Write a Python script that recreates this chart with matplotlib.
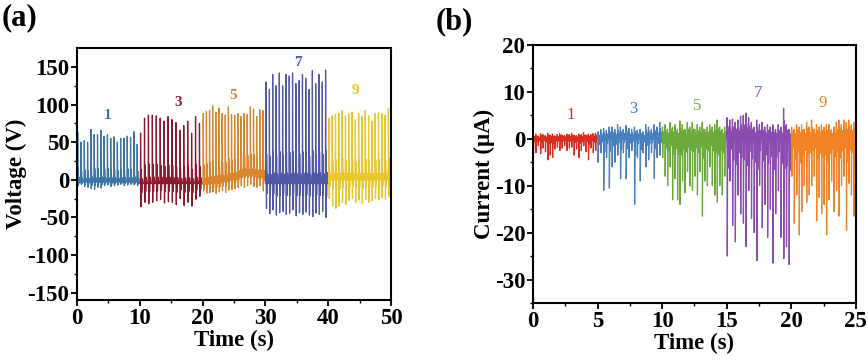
import numpy as np
import matplotlib
matplotlib.use("Agg")
import matplotlib.pyplot as plt

plt.rcParams['font.family'] = ['Liberation Serif', 'DejaVu Serif']
plt.rcParams['font.weight'] = 'bold'
plt.rcParams['axes.labelweight'] = 'bold'
plt.rcParams['axes.unicode_minus'] = False

# ---- (a) voltage, one 10 s window per frequency ----
v_freqs = ['1', '3', '5', '7', '9']
v_colors = ['#3d74a3', '#8c1a2e', '#d9852e', '#5058a8', '#e8c72c']
v_peaks = [
    [63, 50, 52, 50, 67, 60, 60, 66, 58, 60, 55, 57, 50, 55, 55, 58, 56, 64, 47],
    [62, 82, 86, 86, 85, 82, 78, 84, 80, 76, 66, 72, 78, 62, 84, 75],
    [88, 91, 92, 98, 90, 95, 88, 86, 97, 87, 86, 88, 84, 88, 87, 97, 94, 84, 93, 92],
    [130, 120, 140, 125, 142, 125, 140, 138, 142, 128, 132, 140, 135, 120, 145, 128, 140, 130, 146],
    [82, 85, 87, 88, 92, 85, 88, 90, 80, 88, 84, 92, 85, 78, 88, 90, 88, 86, 95],
]
v_troughs = [
    [-8, -6, -9, -10, -12, -13, -10, -11, -8, -7, -9, -8, -7, -6, -8, -7, -6, -7, -8],
    [-36, -30, -32, -30, -28, -26, -31, -29, -30, -33, -25, -34, -30, -35, -26, -22],
    [-15, -18, -17, -16, -18, -16, -15, -17, -14, -13, -12, -10, -8, -10, -8, -6, -9, -10, -8, -15],
    [-38, -45, -40, -47, -44, -42, -46, -45, -40, -48, -44, -46, -43, -47, -49, -44, -46, -42, -50],
    [-25, -35, -38, -35, -30, -33, -28, -25, -30, -27, -32, -26, -30, -28, -25, -27, -24, -26, -22],
]
v_base = [
    [-3] * 19,
    [-5] * 16,
    [-6, -6, -5, -5, -4, -4, -3, -2, -1, 0, 1, 3, 5, 6, 6, 5, 5, 4, 4, 3],
    [-5] * 19,
    [0] * 19,
]
v_label_pos = [(4.8, 86), (16.1, 103), (24.9, 112), (35.1, 156), (44.4, 119)]

# ---- (b) current, one 5 s window per frequency ----
i_freqs = ['1', '3', '5', '7', '9']
i_colors = ['#d62d1e', '#4a7fbf', '#6bab3b', '#8b4cb2', '#ef8326']
i_neg = [
    [-2.5, -3, -1.5, -3.2, -2, -2.8, -4.5, -3.5, -4, -2.2, -1.8, -2.5, -2, -1.5,
     -2.5, -2, -1.8, -3.5, -2.2, -4, -2.5, -1.5, -2.8, -4.5, -2, -3, -2.5],
    [-5, -3, -11, -4, -10.5, -6, -5, -3.5, -8.5, -3, -8.5, -4, -2.5, -14, -4, -9,
     -3, -6, -4.5, -3, -8.5, -4, -3.5],
    [-4, -8, -10, -6, -13, -8.5, -13, -14, -9, -11.5, -7, -10, -11, -8, -12, -7,
     -16.5, -9, -10, -6, -10, -12, -13.5, -10, -12, -8],
    [-25, -9, -18.5, -22, -12, -16, -18, -23, -11, -17, -20, -26, -10, -19, -14,
     -21, -15, -26.5, -16, -11, -21, -25.5, -23, -26.8],
    [-8, -18, -12, -20.5, -15.5, -10, -13.5, -12, -10, -8, -17.5, -12.5, -16, -14,
     -20.5, -13, -9, -15.5, -11, -16.5, -10, -8, -19.5, -9.5, -12, -16.5],
]
i_pos = [
    [0.8, 1.0, 0.6, 1.1, 0.9, 0.7, 1.2, 0.8, 1.0, 0.6, 0.9, 1.1, 0.8, 0.7, 1.0,
     0.9, 1.2, 0.8, 0.7, 1.0, 0.9, 1.3, 0.8, 1.0, 0.9, 1.1, 1.2],
    [1.5, 2, 2.2, 1.8, 2.5, 2.5, 2, 3, 2.5, 2, 2.8, 2.2, 2, 2.5, 1.8, 2, 1.5, 3,
     2.5, 2, 3, 2.5, 3.5],
    [2.5, 3, 2, 3.5, 2.5, 3, 2, 3.8, 3, 2, 3.5, 2.5, 3.5, 2, 3, 2.5, 3.5, 2, 2.5,
     3, 2.5, 3, 4, 2.5, 2, 2.5],
    [4.5, 4, 4.2, 3.5, 4, 4.8, 5, 5.5, 4.5, 3.5, 2.5, 4, 3, 3.5, 2.5, 3, 2.5, 3,
     2, 3, 2.5, 6.5, 3, 2],
    [2.5, 2, 3, 2.5, 3, 2, 3.5, 2.5, 4, 2, 3, 2.5, 3, 2.5, 3, 3, 2, 2.5, 3.5, 4,
     3, 4, 3.5, 4, 3, 3.5],
]
i_label_pos = [(2.95, 5.1), (7.75, 6.4), (12.7, 7.0), (17.4, 9.8), (22.4, 7.6)]


def voltage_trace(t0, span, peaks, troughs, base):
    """Build a spike train: base -> peak -> trough -> small rebound -> base."""
    n = len(peaks)
    p = span / n
    t, v = [t0], [base[0]]
    for k in range(n):
        tk = t0 + 0.15 * p + k * p
        b = base[k]
        t += [tk, tk + 0.03, tk + 0.09, tk + 0.22 * p, tk + 0.35 * p, tk + 0.5 * p, tk + 0.7 * p]
        v += [b, peaks[k], troughs[k], b + 0.3 * peaks[k], b + 0.35 * troughs[k], b + 0.1 * peaks[k], b]
    t.append(t0 + span)
    v.append(base[-1])
    return np.array(t), np.array(v)


def current_trace(t0, span, pos, neg):
    n = len(neg)
    p = span / n
    t, v = [t0], [0.0]
    for k in range(n):
        tk = t0 + 0.1 * p + k * p
        t += [tk, tk + 0.01, tk + 0.025, tk + 0.3 * p, tk + 0.45 * p, tk + 0.6 * p, tk + 0.75 * p]
        v += [0.0, pos[k], neg[k], 0.6 * pos[k], 0.25 * neg[k], 0.4 * pos[k], 0.0]
    t.append(t0 + span)
    v.append(0.0)
    return np.array(t), np.array(v)


def style_axes(ax):
    for side in ['top', 'right', 'bottom', 'left']:
        ax.spines[side].set_linewidth(1.5)
    ax.tick_params(which='major', direction='out', length=4, width=1.3,
                   labelsize=16.5, pad=1.5)
    ax.tick_params(which='minor', direction='out', length=2, width=1.0)


fig = plt.figure(figsize=(8.68, 3.62), dpi=100)

ax1 = fig.add_axes([0.0887, 0.171, 0.3618, 0.696])
for i in range(5):
    t, v = voltage_trace(10 * i, 10, v_peaks[i], v_troughs[i], v_base[i])
    ax1.plot(t, v, color=v_colors[i], lw=0.9)
    x, y = v_label_pos[i]
    ax1.text(x, y, v_freqs[i], color=v_colors[i], fontsize=11, fontweight='bold',
             ha='center', va='center')
ax1.set_xlim(0, 50)
ax1.set_ylim(-160, 175)
ax1.set_xticks([0, 10, 20, 30, 40, 50])
ax1.set_xticks(np.arange(5, 50, 10), minor=True)
ax1.set_yticks([-150, -100, -50, 0, 50, 100, 150])
ax1.set_yticks(np.arange(-125, 175, 50), minor=True)
style_axes(ax1)
ax1.set_xlabel('Time (s)', fontsize=16.5, labelpad=1)
ax1.set_ylabel('Voltage (V)', fontsize=16.5, labelpad=0)

ax2 = fig.add_axes([0.614, 0.163, 0.372, 0.713])
for i in range(5):
    t, v = current_trace(5 * i, 5, i_pos[i], i_neg[i])
    ax2.plot(t, v, color=i_colors[i], lw=0.9)
    x, y = i_label_pos[i]
    ax2.text(x, y, i_freqs[i], color=i_colors[i], fontsize=12, fontweight='normal',
             ha='center', va='center')
ax2.set_xlim(0, 25)
ax2.set_ylim(-35, 20)
ax2.set_xticks([0, 5, 10, 15, 20, 25])
ax2.set_xticks(np.arange(2.5, 25, 5), minor=True)
ax2.set_yticks([-30, -20, -10, 0, 10, 20])
ax2.set_yticks(np.arange(-35, 20, 5), minor=True)
style_axes(ax2)
ax2.set_xlabel('Time (s)', fontsize=16.5, labelpad=1)
ax2.set_ylabel('Current (μA)', fontsize=16.5, labelpad=0)

fig.text(0.002, 0.95, '(a)', fontsize=22, fontweight='bold', ha='left', va='center')
fig.text(0.502, 0.94, '(b)', fontsize=22, fontweight='bold', ha='left', va='center')

fig.savefig('out.png', dpi=100)
